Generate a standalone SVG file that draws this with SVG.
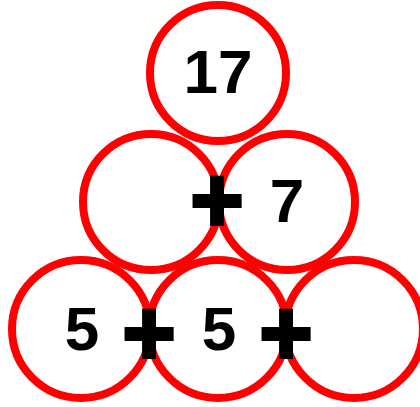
<svg xmlns="http://www.w3.org/2000/svg" width="420" height="407" viewBox="0 0 420 407">
<style>
.c{fill:none;stroke:#ff0000;stroke-width:8}
.n{font-family:"Liberation Sans",Arial,sans-serif;font-weight:bold;font-size:62px;fill:#000;text-anchor:middle}
.p{font-family:"Liberation Sans",Arial,sans-serif;font-weight:bold;font-size:90px;fill:#000;stroke:#000;stroke-width:4;text-anchor:middle}
</style>
<rect width="420" height="407" fill="#fff"/>
<g id="top"><circle class="c" cx="218" cy="73" r="68"/><text class="n" x="218" y="93">17</text></g>
<g id="mid-left"><circle class="c" cx="151" cy="202" r="68"/></g>
<g id="mid-right"><circle class="c" cx="287" cy="202" r="68"/><text class="n" x="287" y="222">7</text></g>
<g id="bot-left"><circle class="c" cx="81" cy="329" r="69"/><text class="n" x="82" y="350">5</text></g>
<g id="bot-mid"><circle class="c" cx="218" cy="329" r="69"/><text class="n" x="219" y="350">5</text></g>
<g id="bot-right"><circle class="c" cx="354" cy="329" r="69"/></g>
<g id="connectors">
<text class="p" x="217" y="231">+</text>
<text class="p" x="149" y="364">+</text>
<text class="p" x="286" y="364">+</text>
</g>
</svg>
